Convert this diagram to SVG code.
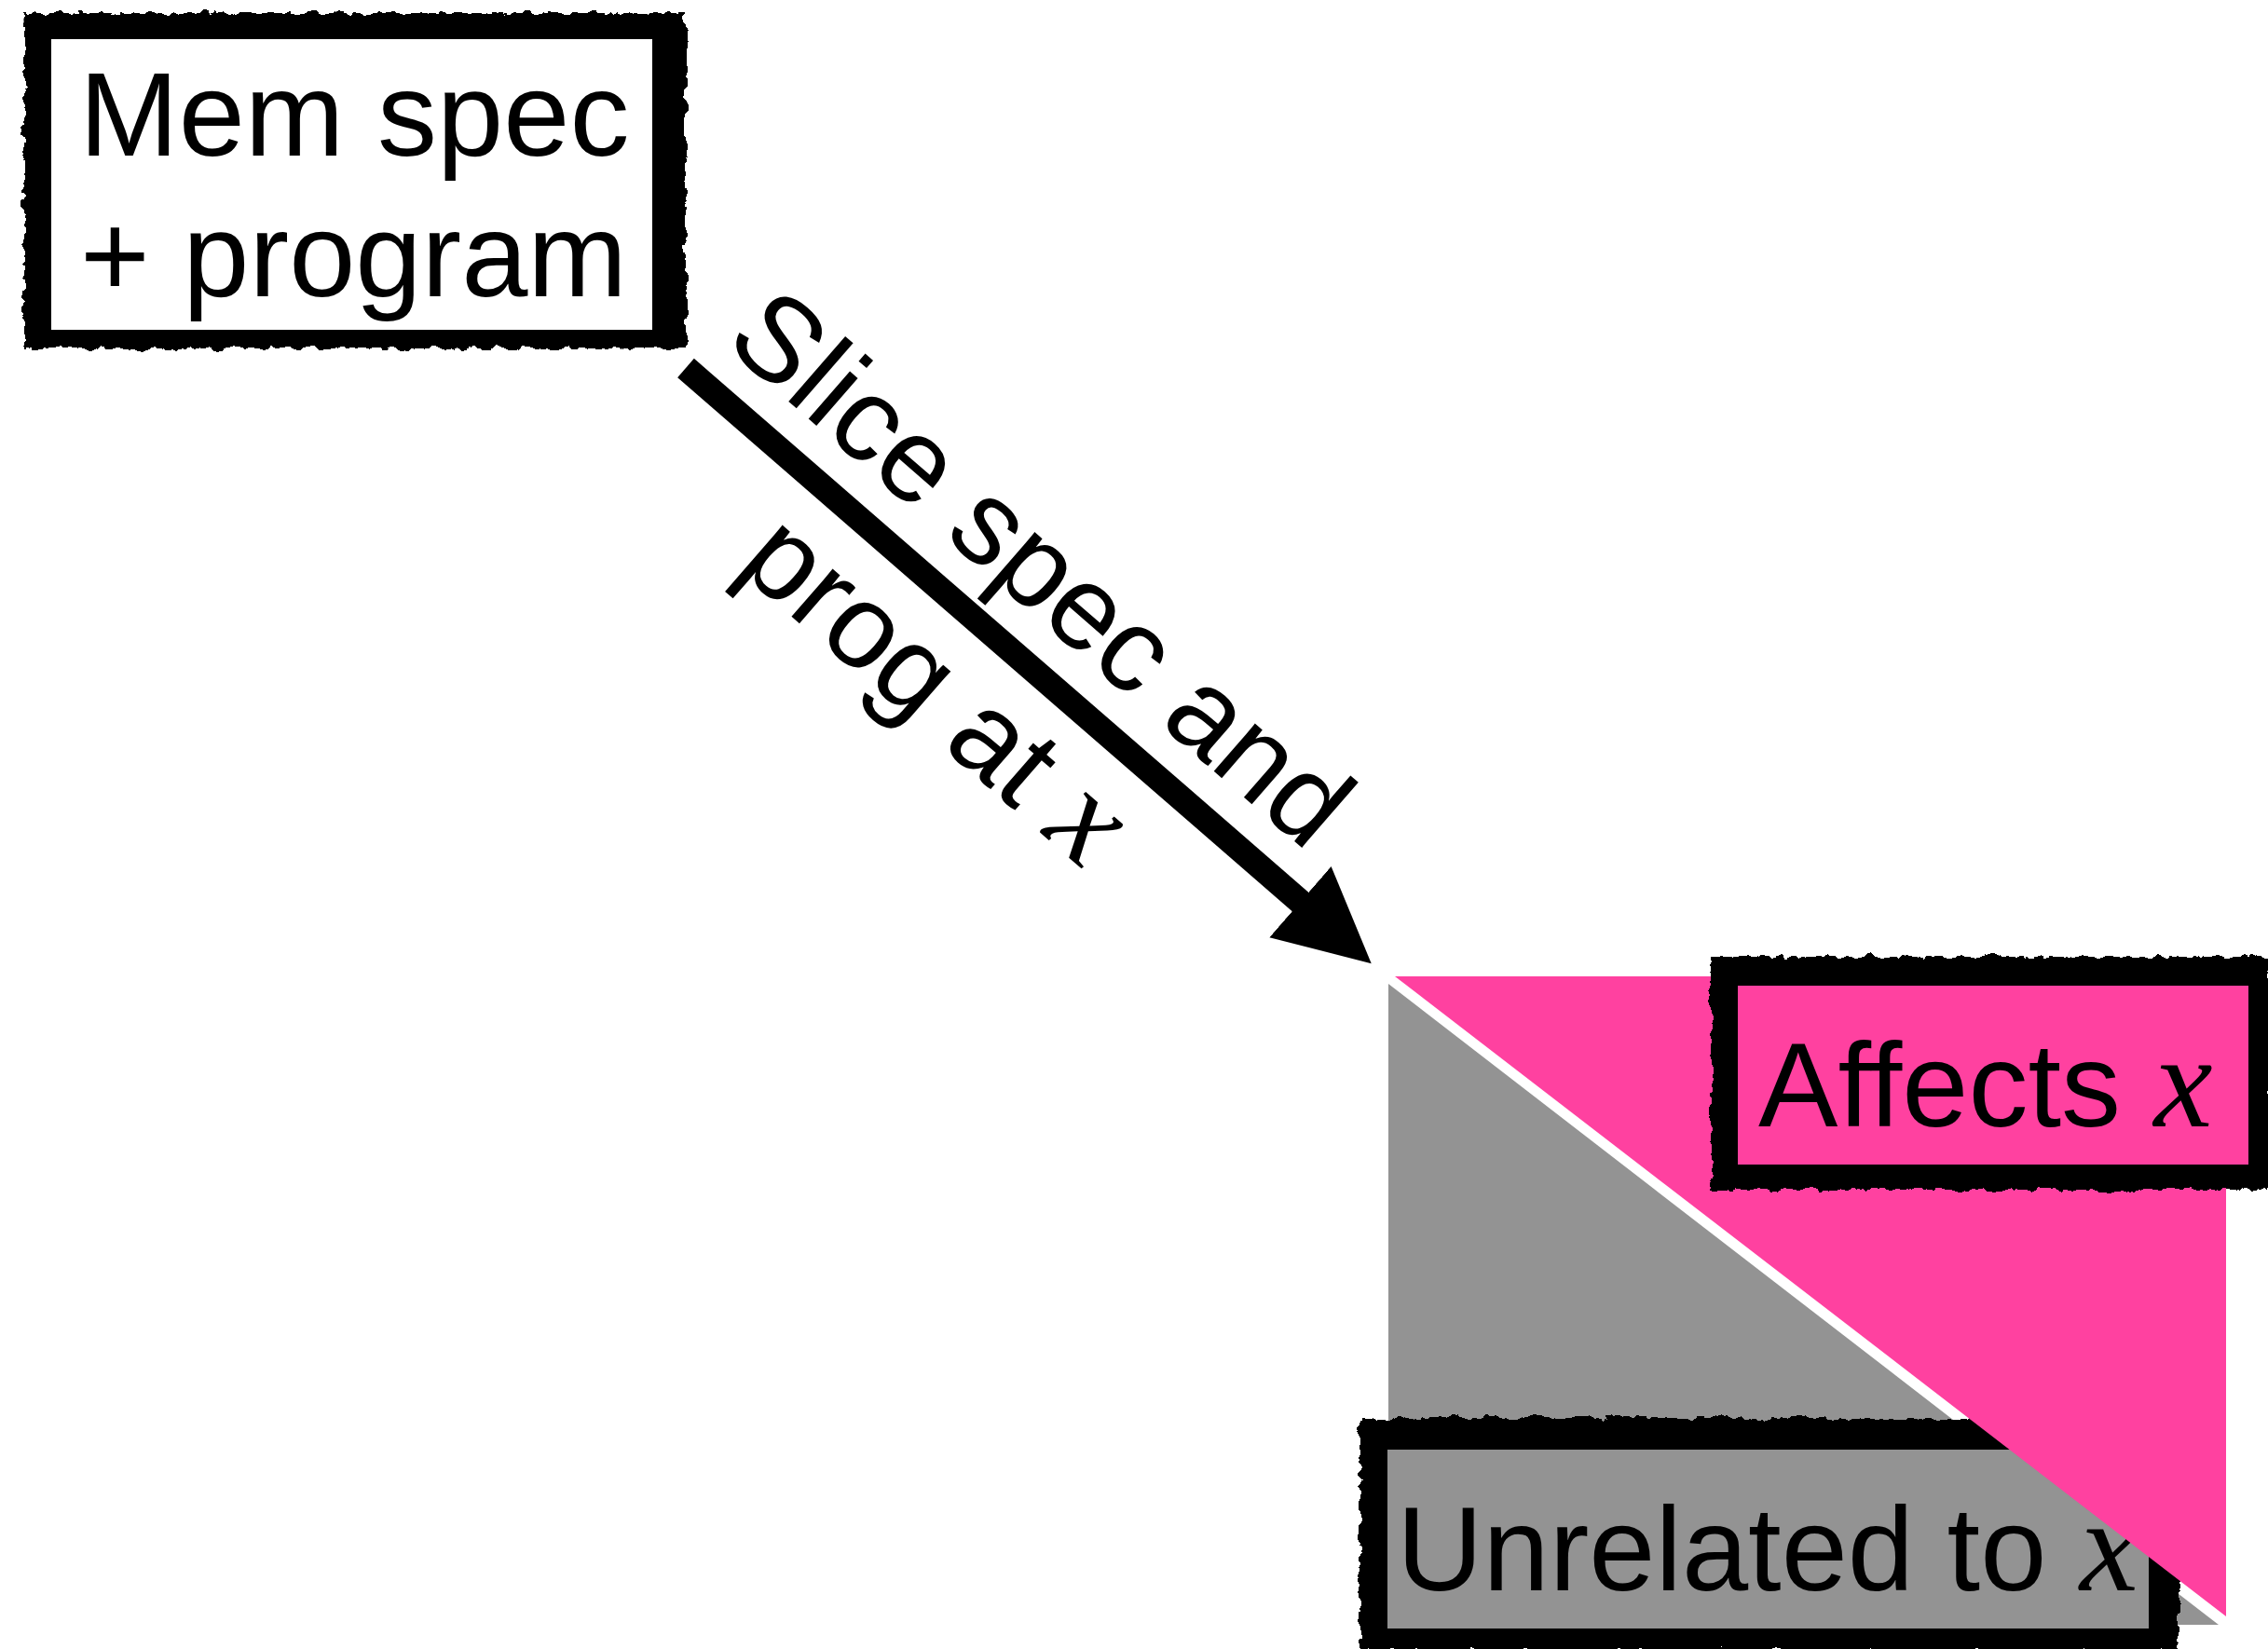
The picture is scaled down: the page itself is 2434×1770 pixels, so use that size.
<svg xmlns="http://www.w3.org/2000/svg" width="2434" height="1770" viewBox="0 0 2434 1770">
  <style>
    .lbl { font-family: "Liberation Sans", Arial, Helvetica, sans-serif; font-size: 128px; fill: #000; }
    .mx { font-family: "Liberation Serif", "Times New Roman", serif; font-style: italic; font-size: 142px; }
    .frame { fill: #000; filter: url(#rough); }
    .pink { fill: #ff41a0; }
    .gray { fill: #939393; }
  </style>
  <defs>
    <filter id="rough" x="-5%" y="-10%" width="110%" height="120%">
      <feTurbulence type="fractalNoise" baseFrequency="0.07" numOctaves="4" seed="4" result="n"/>
      <feDisplacementMap in="SourceGraphic" in2="n" scale="12" xChannelSelector="R" yChannelSelector="G"/>
    </filter>
    <marker id="ah" markerUnits="userSpaceOnUse" markerWidth="104" markerHeight="104" viewBox="0 -52 104 104" refX="26.5" refY="0" orient="auto">
      <path d="M0,-50.5 L101,0 L0,50.5 Z" fill="#000"/>
    </marker>
  </defs>
  <rect width="2434" height="1770" fill="#fff"/>

  <g id="region-unrelated">
    <polygon class="gray" points="1490,1056 1490,1744 2381,1744"/>
  </g>

  <g id="node-unrelated">
    <rect class="frame" x="1459" y="1522" width="880" height="250"/>
    <rect class="gray" x="1489" y="1556" width="817" height="192"/>
    <text class="lbl" x="1499" y="1707">Unrelated to <tspan class="mx">x</tspan></text>
  </g>

  <g id="region-affects">
    <polygon class="pink" points="1497,1048 2389,1048 2389,1735"/>
  </g>

  <g id="node-affects">
    <rect class="frame" x="1836" y="1027" width="600" height="250"/>
    <rect class="pink" x="1865" y="1058" width="548" height="192"/>
    <text class="lbl" x="1887" y="1209">Affects <tspan class="mx">x</tspan></text>
  </g>

  <g id="node-mem">
    <rect class="frame" x="26" y="14" width="710" height="360"/>
    <rect x="55" y="42" width="645" height="312" fill="#fff"/>
    <text class="lbl" x="85" y="167">Mem spec</text>
    <text class="lbl" x="86" y="318">+ program</text>
  </g>

  <g id="connectors">
    <path d="M736,395 L1415.5,985.4" stroke="#000" stroke-width="27" fill="none" marker-end="url(#ah)"/>
    <g transform="translate(1059.9,676.4) rotate(41)">
      <text class="lbl" x="0" y="-45" text-anchor="middle">Slice spec and</text>
      <text class="lbl" x="0" y="127" text-anchor="middle">prog at <tspan class="mx">x</tspan></text>
    </g>
  </g>
</svg>
